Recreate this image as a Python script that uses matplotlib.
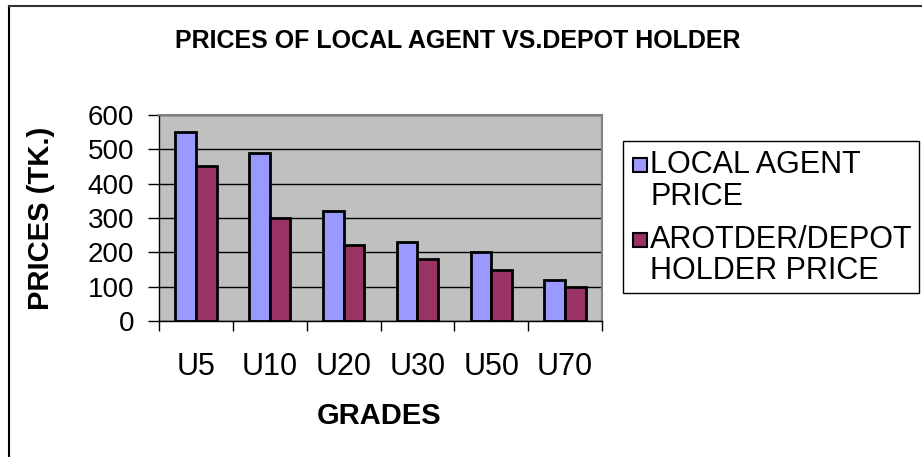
import numpy as np
import matplotlib.pyplot as plt
from matplotlib.lines import Line2D
from matplotlib.patches import Rectangle

plt.rcParams['font.family'] = ['Liberation Sans', 'DejaVu Sans']

# Data
grades = ['U5', 'U10', 'U20', 'U30', 'U50', 'U70']
local_agent = [550, 490, 320, 230, 200, 120]
depot_holder = [450, 300, 220, 180, 150, 100]
y_ticks = [0, 100, 200, 300, 400, 500, 600]
series_labels = [['LOCAL AGENT', 'PRICE'], ['AROTDER/DEPOT', 'HOLDER PRICE']]
series_colors = ['#9999FF', '#993366']

W, H = 922, 457
fig = plt.figure(figsize=(W / 100, H / 100), dpi=100)
ax = fig.add_axes([159 / W, 1 - 321 / H, 443 / W, 206 / H])

x = np.arange(len(grades))
w = 0.28
ax.set_facecolor('#C0C0C0')
ax.bar(x - w / 2, local_agent, w, color=series_colors[0], edgecolor='black',
       linewidth=2, zorder=3)
ax.bar(x + w / 2, depot_holder, w, color=series_colors[1], edgecolor='black',
       linewidth=2, zorder=3)

ax.set_xlim(-0.5, len(grades) - 0.5)
ax.set_ylim(0, 600)
ax.set_yticks(y_ticks)
ax.set_yticklabels([str(v) for v in y_ticks], fontsize=20)
ax.yaxis.grid(True, color='black', linewidth=1, zorder=1)
ax.tick_params(axis='y', direction='out', length=8, width=1, pad=10)

ax.set_xticks(x)
ax.set_xticklabels(grades, fontsize=22)
ax.set_xticks(np.arange(-0.5, len(grades)), minor=True)
ax.tick_params(axis='x', which='major', length=0, pad=22)
ax.tick_params(axis='x', which='minor', direction='out', length=7, width=1)

for s in ['top', 'right']:
    ax.spines[s].set_color('#808080')
    ax.spines[s].set_linewidth(1.5)
for s in ['left', 'bottom']:
    ax.spines[s].set_color('black')
    ax.spines[s].set_linewidth(1)

ax.set_xlabel('GRADES', fontsize=21, fontweight='bold', va='center')
ax.xaxis.set_label_coords((379 - 159) / 443, (321 - 416) / 206)
ax.set_ylabel('PRICES (TK.)', fontsize=21, fontweight='bold', va='center', ha='center')
ax.yaxis.set_label_coords((41 - 159) / 443, (321 - 218) / 206)

fig.text(458 / W, 1 - 41 / H, 'PRICES OF LOCAL AGENT VS.DEPOT HOLDER',
         fontsize=18, fontweight='bold', ha='center', va='center')

# legend drawn by hand to match the two-line layout of the original
fig.add_artist(Rectangle((623 / W, 1 - 293 / H), (919 - 623) / W, 152 / H,
                         transform=fig.transFigure, facecolor='white',
                         edgecolor='black', linewidth=1))
line_y = [[165, 197], [240, 271]]
for labels, ys, col in zip(series_labels, line_y, series_colors):
    fig.add_artist(Rectangle((633 / W, 1 - (ys[0] + 7) / H), 14 / W, 14 / H,
                             transform=fig.transFigure, facecolor=col,
                             edgecolor='black', linewidth=1.5))
    for lab, yy in zip(labels, ys):
        fig.text(650 / W, 1 - yy / H, lab, fontsize=22, ha='left', va='center')

# outer chart frame (left and top visible)
fig.add_artist(Line2D([9 / W, 9 / W], [0, 1 - 6 / H], color='black', lw=1.5))
fig.add_artist(Line2D([9 / W, 1], [1 - 6 / H, 1 - 6 / H], color='#333333', lw=1.5))

fig.savefig('out.png', dpi=100)
